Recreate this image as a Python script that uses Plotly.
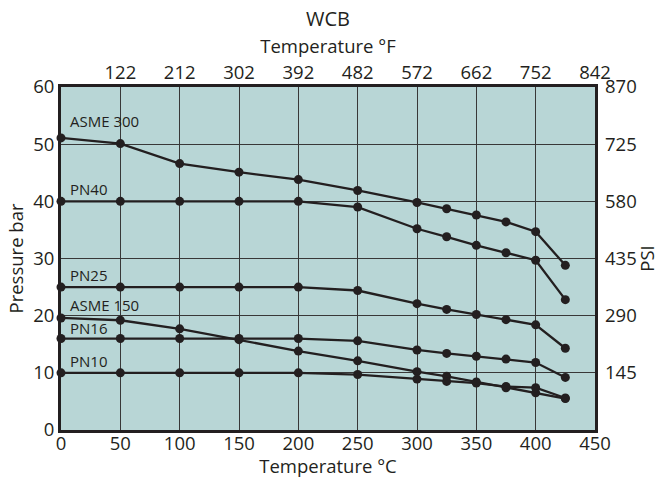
import plotly.graph_objects as go

# Temperature steps in °C
temp_c = [0, 50, 100, 150, 200, 250, 300, 325, 350, 375, 400, 425]

# Pressure ratings in bar for each class
asme300 = [51.1, 50.1, 46.6, 45.1, 43.8, 41.9, 39.8, 38.7, 37.6, 36.4, 34.7, 28.8]
pn40 = [40.0, 40.0, 40.0, 40.0, 40.0, 39.0, 35.2, 33.8, 32.3, 31.0, 29.7, 22.8]
pn25 = [25.0, 25.0, 25.0, 25.0, 25.0, 24.4, 22.1, 21.1, 20.2, 19.3, 18.4, 14.3]
asme150 = [19.6, 19.2, 17.7, 15.8, 13.8, 12.1, 10.2, 9.4, 8.4, 7.4, 6.5, 5.5]
pn16 = [16.0, 16.0, 16.0, 16.0, 16.0, 15.6, 14.0, 13.4, 12.9, 12.4, 11.8, 9.2]
pn10 = [10.0, 10.0, 10.0, 10.0, 10.0, 9.7, 8.9, 8.5, 8.2, 7.6, 7.4, 5.6]

series_names = ["ASME 300", "PN40", "PN25", "ASME 150", "PN16", "PN10"]
series_values = [asme300, pn40, pn25, asme150, pn16, pn10]
label_y = [54.0, 42.2, 27.1, 21.9, 17.8, 12.1]

# Secondary scales
f_tick_c = [50, 100, 150, 200, 250, 300, 350, 400, 450]
f_tick_text = ["122", "212", "302", "392", "482", "572", "662", "752", "842"]
psi_tick_bar = [10, 20, 30, 40, 50, 60]
psi_tick_text = ["145", "290", "435", "580", "725", "870"]

INK = "#231f20"
FONT = "Open Sans"

fig = go.Figure()

for name, vals in zip(series_names, series_values):
    fig.add_trace(go.Scatter(
        x=temp_c, y=vals, mode="lines+markers", name=name,
        line=dict(color=INK, width=2.3),
        marker=dict(color=INK, size=9),
        cliponaxis=False, showlegend=False,
    ))

# carrier trace for the °F / PSI axes
fig.add_trace(go.Scatter(
    x=temp_c, y=asme300, xaxis="x2", yaxis="y2", mode="lines",
    line=dict(width=0), opacity=0, hoverinfo="skip", showlegend=False,
))

for name, y in zip(series_names, label_y):
    fig.add_annotation(x=6, y=y, text=name, showarrow=False,
                       xanchor="left", yanchor="middle",
                       font=dict(family=FONT, size=15, color=INK))

grid = dict(showgrid=True, gridcolor="#383838", gridwidth=1, zeroline=False,
            showline=True, linecolor=INK, linewidth=3, mirror=True, ticks="",
            automargin=False)
tickfont = dict(family=FONT, size=18.5, color=INK)
titlefont = dict(family=FONT, size=18.5, color=INK)

fig.update_layout(
    width=659, height=478,
    margin=dict(l=61, r=64, t=87, b=48),
    paper_bgcolor="white", plot_bgcolor="#b8d6d6",
    title=dict(text="WCB", x=0.5, xref="paper", xanchor="center",
               y=0.96, yanchor="middle",
               font=dict(family=FONT, size=20, color=INK)),
    xaxis=dict(range=[0, 450], tickvals=list(range(0, 451, 50)),
               tickfont=tickfont, ticklabelstandoff=-5,
               title=dict(text="Temperature °C", font=titlefont, standoff=0),
               **grid),
    yaxis=dict(range=[0, 60], tickvals=list(range(0, 61, 10)),
               tickfont=tickfont, ticklabelstandoff=0,
               title=dict(text="Pressure bar", font=titlefont, standoff=5),
               **grid),
    xaxis2=dict(overlaying="x", side="top", anchor="y", range=[0, 450],
                tickvals=f_tick_c, ticktext=f_tick_text, tickfont=tickfont,
                showgrid=False, zeroline=False, ticks="", ticklabelstandoff=3,
                automargin=False,
                title=dict(text="Temperature °F", font=titlefont, standoff=0)),
    yaxis2=dict(overlaying="y", side="right", anchor="x", range=[0, 60],
                tickvals=psi_tick_bar, ticktext=psi_tick_text, tickfont=tickfont,
                showgrid=False, zeroline=False, ticks="", ticklabelstandoff=9,
                automargin=False,
                title=dict(text="PSI", font=titlefont, standoff=0)),
)

fig.write_html("out.html")
